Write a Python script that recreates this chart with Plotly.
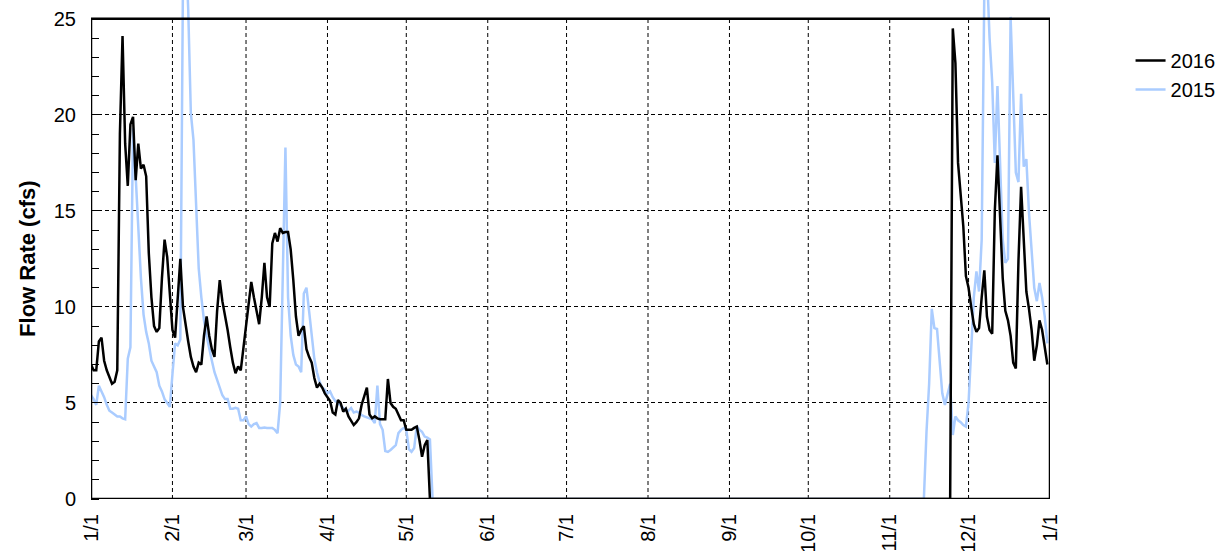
import numpy as np
import pandas as pd
import plotly.graph_objects as go

# Daily mean flow rate (cfs). Each year has a wet-season run at the start
# (Jan 1 onward) and one at the end (through Dec 31); the days between are zero flow.
flow_2016_spring = [
    7.0, 6.7, 6.7, 8.2, 8.4, 7.2, 6.7, 6.3, 6.0, 6.1,
    6.7, 19.0, 24.1, 18.5, 16.3, 19.5, 19.9, 16.6, 18.5, 17.2,
    17.4, 16.8, 12.8, 10.5, 9.0, 8.7, 8.9, 11.5, 13.5, 12.6,
    10.5, 8.8, 8.4, 10.5, 12.5, 10.0, 9.0, 8.2, 7.4, 6.9,
    6.6, 7.1, 7.0, 8.5, 9.5, 8.5, 7.8, 7.4, 9.8, 11.4,
    10.3, 9.6, 8.8, 7.9, 7.1, 6.55, 6.9, 6.7, 7.8, 9.0,
    10.3, 11.3, 10.5, 9.8, 9.1, 10.5, 12.3, 10.5, 10.0, 13.3,
    13.85, 13.4, 14.1, 13.85, 13.9, 13.9, 13.0, 11.4, 9.5, 8.5,
    8.8, 9.0, 7.8, 7.4, 7.1, 6.3, 5.8, 6.0, 5.8, 5.5,
    5.3, 5.1, 4.5, 4.4, 5.15, 5.0, 4.55, 4.7, 4.3, 4.1,
    3.85, 4.0, 4.2, 4.9, 5.3, 5.8, 4.4, 4.2, 4.3, 4.2,
    4.15, 4.15, 4.15, 6.25, 5.0, 4.8, 4.7, 4.4, 4.1, 4.1,
    3.6, 3.6, 3.6, 3.7, 3.77, 3.07, 2.2, 2.8, 3.07,
]
flow_2016_fall = [
    24.5, 22.7, 17.5, 15.8, 14.2, 11.6, 11.0, 10.0, 9.1, 8.7,
    8.9, 10.5, 11.9, 9.5, 8.8, 8.6, 15.0, 17.9, 14.5, 11.5,
    9.8, 9.3, 8.5, 7.1, 6.8, 12.4, 16.25, 13.5, 10.8, 9.9,
    8.8, 7.2, 8.0, 9.3, 8.8, 7.9, 7.0,
]
flow_2015_spring = [
    5.4, 5.2, 4.9, 5.9, 5.6, 5.3, 4.9, 4.6, 4.5, 4.4,
    4.3, 4.3, 4.2, 4.15, 7.3, 7.9, 19.3, 16.8, 14.0, 11.5,
    9.6, 8.7, 8.1, 7.2, 6.9, 6.6, 5.9, 5.6, 5.2, 5.0,
    4.8, 6.5, 8.1, 8.0, 8.3, 27.0, 29.0, 25.5, 20.1, 18.7,
    14.9, 12.0, 10.5, 9.3, 8.5, 7.8, 7.2, 6.6, 6.2, 5.8,
    5.4, 5.2, 5.2, 4.7, 4.7, 4.75, 4.7, 4.1, 4.1, 4.3,
    3.9, 3.77, 3.9, 3.95, 3.7, 3.7, 3.72, 3.7, 3.7, 3.7,
    3.6, 3.43, 5.0, 12.0, 18.3, 10.5, 8.5, 7.5, 7.0, 6.9,
    6.6, 10.7, 11.0, 9.8, 8.6, 7.3, 6.6, 6.1, 5.8, 5.7,
    5.5, 5.6, 5.3, 5.1, 5.0, 4.85, 4.74, 4.6, 4.6, 4.74,
    4.5, 4.55, 4.5, 4.37, 4.3, 4.25, 4.2, 4.15, 3.95, 5.9,
    3.9, 3.6, 2.5, 2.45, 2.55, 2.7, 2.8, 3.43, 3.6, 3.7,
    3.6, 2.6, 2.46, 2.65, 3.8, 3.6, 3.5, 3.25, 3.2, 3.1,
]
flow_2015_fall = [
    3.5, 6.0, 9.9, 8.9, 8.85, 7.0, 5.5, 4.9, 5.5, 6.0,
    3.33, 4.3, 4.1, 4.0, 3.85, 3.77, 5.0, 8.0, 10.5, 11.85,
    10.8, 13.5, 26.5, 27.5, 24.0, 21.7, 17.5, 21.5, 17.7, 13.5,
    12.3, 12.5, 25.1, 21.5, 17.0, 16.5, 21.1, 17.3, 17.7, 14.9,
    12.8, 11.0, 10.3, 11.25, 10.5, 9.5, 8.1,
]

series_names = ["2016", "2015"]
series_colors = ["#000000", "#aaccff"]
month_labels = ["1/1", "2/1", "3/1", "4/1", "5/1", "6/1", "7/1",
                "8/1", "9/1", "10/1", "11/1", "12/1", "1/1"]
y_ticks = [0, 5, 10, 15, 20, 25]
y_top = 25

# Both years are drawn on a common month/day axis.
days = pd.date_range("2015-01-01", periods=365, freq="D")
month_starts = pd.date_range("2015-01-01", "2016-01-01", freq="MS")


def full_year(spring, fall):
    dry = len(days) - len(spring) - len(fall)
    return np.concatenate([spring, np.zeros(dry), fall])


flow = {
    "2016": full_year(flow_2016_spring, flow_2016_fall),
    "2015": full_year(flow_2015_spring, flow_2015_fall),
}

fig = go.Figure()
# 2015 underneath, 2016 on top
for name, color in reversed(list(zip(series_names, series_colors))):
    fig.add_trace(go.Scatter(
        x=days, y=flow[name], mode="lines", name=name,
        line=dict(color=color, width=2.5),
    ))

font_family = "Liberation Sans, Arial, sans-serif"

fig.update_layout(
    width=1232, height=551,
    margin=dict(l=91, r=182, t=0, b=52),
    plot_bgcolor="white", paper_bgcolor="white",
    font=dict(family=font_family, size=20, color="black"),
    legend=dict(
        x=1.084, y=0.918, xanchor="left", yanchor="top",
        traceorder="reversed", bgcolor="rgba(0,0,0,0)",
        font=dict(family=font_family, size=20, color="black"),
        tracegroupgap=0,
    ),
)

fig.update_xaxes(
    type="date",
    range=[month_starts[0], month_starts[-1]],
    tickvals=month_starts, ticktext=month_labels,
    tickangle=-90, ticks="", ticklabelstandoff=10,
    tickfont=dict(size=20), automargin=False,
    showgrid=False, showline=False, zeroline=False,
)

# The data area reaches slightly above 25 so peaks can run past the frame.
fig.update_yaxes(
    range=[0, 25.98],
    tickvals=y_ticks, ticks="", ticklabelstandoff=14,
    tickfont=dict(size=20), automargin=False,
    showgrid=True, gridcolor="black", gridwidth=1, griddash="4px,3px",
    zeroline=False, showline=False, mirror="ticks",
    minor=dict(ticks="inside", dtick=1, ticklen=8, tickwidth=1,
               tickcolor="black", showgrid=False),
)

# Dashed month gridlines inside the frame
for m in month_starts[1:-1]:
    fig.add_shape(type="line", xref="x", yref="y", x0=m, x1=m, y0=0, y1=y_top,
                  line=dict(color="black", width=1, dash="4px,3px"), layer="below")

# Plot frame from 0 to 25 cfs
fig.add_shape(type="rect", xref="x", yref="y",
              x0=month_starts[0], x1=month_starts[-1], y0=0, y1=y_top,
              line=dict(color="black", width=2.5), layer="above")

fig.add_annotation(
    text="<b>Flow Rate (cfs)</b>", textangle=-90, showarrow=False,
    xref="paper", x=(28 - 91) / 959, xanchor="center",
    yref="y", y=y_top / 2, yanchor="middle",
    font=dict(family=font_family, size=22, color="black"),
)

fig.write_html("out.html")
